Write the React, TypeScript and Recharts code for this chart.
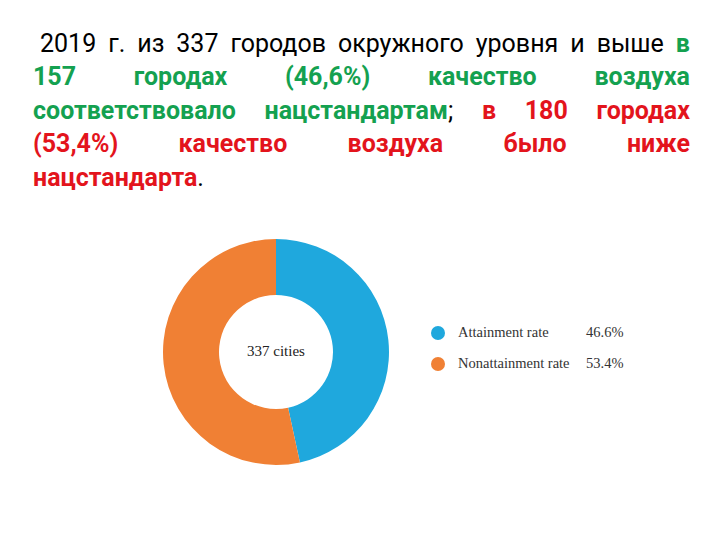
import React from "react";
import { PieChart, Pie, Cell, Legend } from "recharts";

const categories = ["Attainment rate", "Nonattainment rate"];
const shares = [46.6, 53.4];
const shareLabels = ["46.6%", "53.4%"];
const sliceColors = ["#1fa8dd", "#f08034"];
const centerText = "337 cities";

const data = categories.map((name, i) => ({ name, value: shares[i] }));

const GREEN = "#14a150";
const RED = "#e3141c";
const BLACK = "#000";
const FONT = "Roboto, 'Noto Sans', sans-serif";
const SERIF = "'Liberation Serif', 'DejaVu Serif', serif";

type Word = { t: string; c: string; b: boolean };
const w = (t: string, c: string, b: boolean): Word => ({ t, c, b });

const titleLines: Word[][] = [
  [
    w("2019", BLACK, false), w("г.", BLACK, false), w("из", BLACK, false), w("337", BLACK, false),
    w("городов", BLACK, false), w("окружного", BLACK, false), w("уровня", BLACK, false),
    w("и", BLACK, false), w("выше", BLACK, false), w("в", GREEN, true),
  ],
  [w("157", GREEN, true), w("городах", GREEN, true), w("(46,6%)", GREEN, true), w("качество", GREEN, true), w("воздуха", GREEN, true)],
  [w("соответствовало", GREEN, true), w("нацстандартам", GREEN, true), w("в", RED, true), w("180", RED, true), w("городах", RED, true)],
  [w("(53,4%)", RED, true), w("качество", RED, true), w("воздуха", RED, true), w("было", RED, true), w("ниже", RED, true)],
];

const LegendContent = () => (
  <div style={{ fontFamily: SERIF, fontSize: 14.5, color: "#333" }}>
    {categories.map((c, i) => (
      <div key={c} style={{ display: "flex", alignItems: "center", height: 31 }}>
        <span
          style={{
            display: "inline-block",
            width: 14,
            height: 14,
            borderRadius: 7,
            background: sliceColors[i],
            marginRight: 13,
          }}
        />
        <span style={{ width: 128 }}>{c}</span>
        <span>{shareLabels[i]}</span>
      </div>
    ))}
  </div>
);

const lineStyle: React.CSSProperties = {
  display: "flex",
  justifyContent: "space-between",
  alignItems: "center",
  height: 33.5,
  fontFamily: FONT,
  fontSize: 25,
  whiteSpace: "nowrap",
};

export default function App() {
  return (
    <div style={{ position: "fixed", left: 0, top: 0, width: 720, height: 540, background: "#fff" }}>
      <div style={{ position: "absolute", left: 33, top: 26.5, width: 657 }}>
        {titleLines.map((ln, li) => (
          <div key={li} style={{ ...lineStyle, paddingLeft: li === 0 ? 7 : 0 }}>
            {ln.map((word, wi) => (
              <span key={wi} style={{ color: word.c, fontWeight: word.b ? 700 : 400 }}>
                {word.t}
                {li === 2 && wi === 1 ? <span style={{ color: BLACK, fontWeight: 400 }}>;</span> : null}
              </span>
            ))}
          </div>
        ))}
        <div style={{ ...lineStyle, justifyContent: "flex-start" }}>
          <span style={{ color: RED, fontWeight: 700 }}>нацстандарта</span>
          <span style={{ color: BLACK }}>.</span>
        </div>
      </div>
      <div style={{ position: "absolute", left: 0, top: 0 }}>
        <PieChart width={720} height={540} margin={{ top: 0, right: 0, bottom: 0, left: 0 }}>
          <Pie
            data={data}
            dataKey="value"
            nameKey="name"
            cx={276}
            cy={352}
            innerRadius={57}
            outerRadius={113}
            startAngle={90}
            endAngle={-270}
            stroke="none"
            isAnimationActive={false}
          >
            {data.map((d, i) => (
              <Cell key={d.name} fill={sliceColors[i]} />
            ))}
          </Pie>
          <Legend
            content={<LegendContent />}
            wrapperStyle={{ position: "absolute", left: 431, top: 317, width: 240 }}
          />
        </PieChart>
      </div>
      <div
        style={{
          position: "absolute",
          left: 216,
          top: 341,
          width: 120,
          textAlign: "center",
          fontFamily: SERIF,
          fontSize: 15,
          color: "#222",
          lineHeight: "20px",
        }}
      >
        {centerText}
      </div>
    </div>
  );
}
